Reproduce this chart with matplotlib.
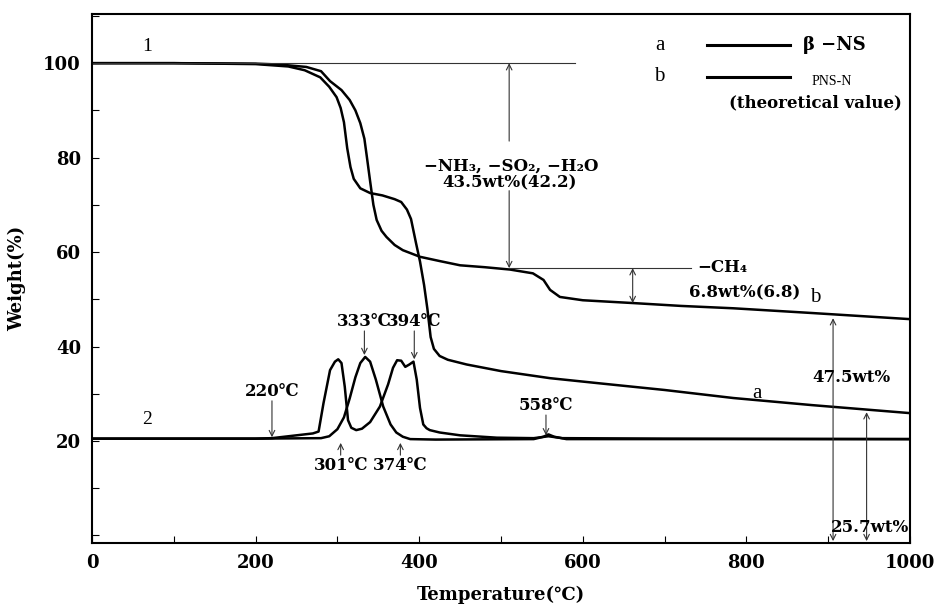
import numpy as np
import matplotlib
matplotlib.use('Agg')
import matplotlib.pyplot as plt
from matplotlib.ticker import MultipleLocator

# TG curve a (beta-NS)
temp_a = [0, 100, 200, 240, 260, 279, 290, 299, 304, 308, 312, 316, 320, 328, 340, 355, 370, 378,
          385, 390, 396, 401, 406, 410, 414, 418, 425, 435, 458, 500, 560, 621, 700, 784, 880, 1000]
wt_a = [100, 100, 99.8, 99.3, 98.5, 97, 95, 92.8, 90.5, 87.5, 82, 78, 75.5, 73.5, 72.5, 72, 71.2, 70.6,
        69, 67, 62, 58, 53, 48, 42, 39.5, 38, 37.2, 36.2, 34.8, 33.3, 32.2, 30.8, 29.1, 27.6, 25.9]

# TG curve b (PNS-N theoretical)
temp_b = [0, 100, 200, 230, 262, 280, 291, 305, 315, 322, 328, 333, 336, 340, 344, 348, 354, 360, 370,
          380, 401, 425, 450, 480, 511, 539, 552, 560, 572, 600, 662, 720, 784, 880, 1000]
wt_b = [100, 100, 99.9, 99.7, 99.2, 98.3, 96.2, 94.3, 92.2, 90, 87.3, 84, 80.2, 75, 70, 66.8, 64.5, 63.2, 61.5,
        60.4, 59, 58.1, 57.2, 56.8, 56.3, 55.5, 54.1, 52, 50.5, 49.8, 49.2, 48.6, 48.1, 47.1, 45.8]

# DTG curves (shifted baseline ~20)
dtg_ta = [0, 200, 220, 250, 270, 277, 283, 291, 297, 301, 305, 309, 313, 317, 323, 330, 340, 352, 362,
          368, 373, 378, 383, 388, 393, 397, 401, 405, 409, 413, 425, 450, 495, 540, 558, 575, 700, 1000]
dtg_a = [20.5, 20.5, 20.6, 21.2, 21.6, 22, 28, 35, 36.8, 37.3, 36.5, 31.5, 24.4, 22.8, 22.3, 22.6, 24, 27.3, 32,
         35.5, 37.1, 37, 35.7, 36.2, 36.8, 33, 27, 23.5, 22.7, 22.3, 21.8, 21.2, 20.7, 20.6, 21, 20.6, 20.5, 20.4]

dtg_tb = [0, 200, 280, 290, 300, 308, 315, 322, 328, 334, 340, 347, 356, 365, 372, 380, 389, 420,
          540, 552, 558, 565, 580, 1000]
dtg_b = [20.5, 20.5, 20.6, 21, 22.5, 25, 29, 33.5, 36.5, 37.8, 36.8, 33, 27.3, 23.5, 21.8, 20.9, 20.4, 20.3,
         20.4, 20.9, 21.4, 20.9, 20.4, 20.4]

# DTG peak labels: (label, temp, text y, arrow tip y, pointing down?)
peaks = [('220℃', 220, 30.5, 20.8, True),
         ('333℃', 333, 45.3, 38.2, True),
         ('394℃', 394, 45.3, 37.3, True),
         ('558℃', 555, 27.5, 21.2, True),
         ('301℃', 304, 14.8, 19.6, False),
         ('374℃', 377, 14.8, 19.6, False)]

bold = dict(family=['DejaVu Serif', 'DejaVu Sans'], fontweight='bold')
serif = dict(family=['Liberation Serif', 'DejaVu Serif'])
arr = dict(arrowstyle='->', lw=0.8, color='#333333', shrinkA=0, shrinkB=0)
arr2 = dict(arrowstyle='<->', lw=0.8, color='#333333', shrinkA=0, shrinkB=0)

fig = plt.figure(figsize=(9.38, 6.08), dpi=100)
ax = fig.add_axes([0.0981, 0.1069, 0.872, 0.870])

lw = 1.8
ax.plot(temp_a, wt_a, color='black', lw=lw)
ax.plot(temp_b, wt_b, color='black', lw=lw)
ax.plot(dtg_ta, dtg_a, color='black', lw=lw)
ax.plot(dtg_tb, dtg_b, color='black', lw=lw)

ax.set_xlim(0, 1000)
ax.set_ylim(-1.6, 110.4)
ax.set_xticks([0, 200, 400, 600, 800, 1000])
ax.set_yticks([20, 40, 60, 80, 100])
ax.xaxis.set_minor_locator(MultipleLocator(100))
ax.yaxis.set_minor_locator(MultipleLocator(10))
ax.tick_params(which='both', direction='in', length=5, width=0.8)
ax.tick_params(which='major', labelsize=13, pad=8)
for lab in ax.get_xticklabels() + ax.get_yticklabels():
    lab.set_fontfamily('DejaVu Serif')
    lab.set_fontweight('bold')
for s in ax.spines.values():
    s.set_linewidth(1.5)

ax.set_xlabel('Temperature(℃)', fontsize=13, labelpad=10, **bold)
ax.set_ylabel('Weight(%)', fontsize=13, labelpad=12, **bold)

# curve numbers and letters
ax.text(67, 102.6, '1', fontsize=14, ha='center', **serif)
ax.text(67, 23.6, '2', fontsize=14, ha='center', **serif)
ax.text(884, 50.3, 'b', fontsize=15, ha='center', va='center', **serif)
ax.text(813, 30.0, 'a', fontsize=15, ha='center', va='center', **serif)

# 43.5 wt% step
ax.plot([0, 590], [100, 100], color='#333333', lw=0.8)
ax.annotate('', xy=(510, 100), xytext=(510, 83.5), arrowprops=arr)
ax.annotate('', xy=(510, 56.6), xytext=(510, 73.0), arrowprops=arr)
ax.text(513, 78.2, '−NH₃, −SO₂, −H₂O', fontsize=12, ha='center', va='center', **bold)
ax.text(510, 74.6, '43.5wt%(42.2)', fontsize=12, ha='center', va='center', **bold)

# 6.8 wt% step
ax.plot([510, 732], [56.6, 56.6], color='#333333', lw=0.8)
ax.annotate('', xy=(661, 56.6), xytext=(661, 49.2), arrowprops=arr2)
ax.text(740, 56.7, '−CH₄', fontsize=12, ha='left', va='center', **bold)
ax.text(798, 51.4, '6.8wt%(6.8)', fontsize=12, ha='center', va='center', **bold)

# residues
ax.annotate('', xy=(906, 46.0), xytext=(906, -1.2), arrowprops=arr2)
ax.annotate('', xy=(947, 26.1), xytext=(947, -1.2), arrowprops=arr2)
ax.text(928, 33.5, '47.5wt%', fontsize=12, ha='center', va='center', **bold)
ax.text(951, 1.6, '25.7wt%', fontsize=12, ha='center', va='center', **bold)

# DTG peaks
for lab, t, ty, tip, down in peaks:
    if down:
        ax.annotate('', xy=(t, tip), xytext=(t, ty - 2.0), arrowprops=arr)
    else:
        ax.annotate('', xy=(t, tip), xytext=(t, ty + 2.2), arrowprops=arr)
    ax.text(t, ty, lab, fontsize=12, ha='center', va='center', **bold)

# legend drawn by hand
tr = ax.transAxes
ax.text(0.694, 0.941, 'a', fontsize=15, ha='center', va='center', transform=tr, **serif)
ax.plot([0.752, 0.853], [0.941, 0.941], color='black', lw=2.2, transform=tr)
ax.text(0.869, 0.941, 'β −NS', fontsize=13, ha='left', va='center', transform=tr, **bold)
ax.text(0.694, 0.882, 'b', fontsize=15, ha='center', va='center', transform=tr, **serif)
ax.plot([0.752, 0.853], [0.881, 0.881], color='black', lw=2.2, transform=tr)
ax.text(0.880, 0.872, 'PNS-N', fontsize=10, ha='left', va='center', transform=tr, **serif)
ax.text(0.884, 0.832, '(theoretical value)', fontsize=12, ha='center', va='center', transform=tr, **bold)

fig.savefig('out.png', dpi=100)
